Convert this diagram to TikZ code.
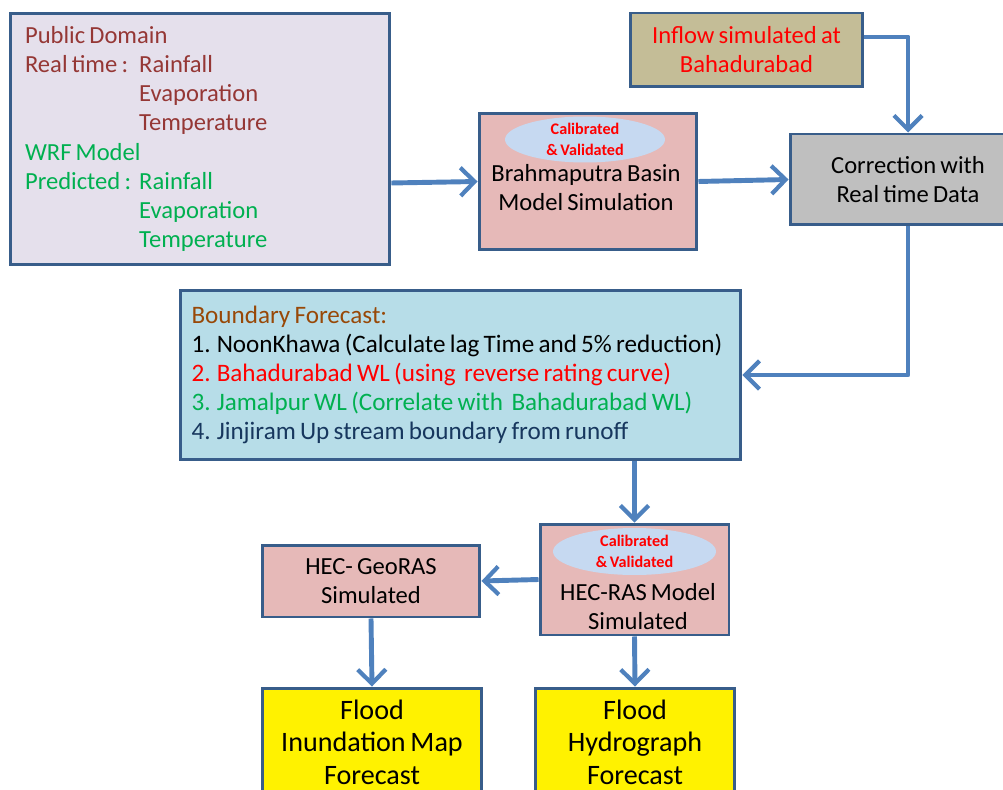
\documentclass[tikz,border=0pt]{standalone}
\usepackage{fontspec}
\setmainfont{Carlito}[WordSpace=0.75]
\usetikzlibrary{arrows.meta, positioning, shapes.geometric}
\definecolor{boxline}{HTML}{385D8A}
\definecolor{flowblue}{HTML}{4F81BD}
\definecolor{pubfill}{HTML}{E5E0EC}
\definecolor{inflowfill}{HTML}{C4BD97}
\definecolor{modelfill}{HTML}{E6B9B8}
\definecolor{calfill}{HTML}{C6D9F1}
\definecolor{corrfill}{HTML}{BFBFBF}
\definecolor{boundfill}{HTML}{B7DDE8}
\definecolor{darkred}{HTML}{953735}
\definecolor{wrfgreen}{HTML}{00B050}
\definecolor{titlebrown}{HTML}{984807}
\definecolor{navy}{HTML}{17375E}

\begin{document}
\begin{tikzpicture}[x=0.02cm, y=-0.02cm,
    box/.style={draw=boxline, line width=1.7pt, rectangle, align=center, inner sep=0pt,
        font=\fontsize{14}{16.5}\selectfont},
    calib/.style={ellipse, fill=calfill, text=red, inner sep=0pt, align=center,
        minimum width=3.2cm, minimum height=0.92cm, font=\bfseries\fontsize{9.2}{11.8}\selectfont},
    flow/.style={draw=flowblue, line width=2.8pt, line join=round,
        -{Straight Barb[length=8pt, width=16pt, line width=2.4pt]}}]
    \useasboundingbox (0,0) rectangle (1003,790);
    \node[box, fill=pubfill, minimum width=7.6cm, minimum height=5.04cm, text width=7.0cm,
        inner xsep=0.3cm, align=flush left, font=\fontsize{14}{16.6}\selectfont] (pub) at (200,139) {%
        \color{darkred}Public Domain\\
        \makebox[65pt][l]{Real time :}Rainfall\\
        \hspace*{65pt}Evaporation\\
        \hspace*{65pt}Temperature\\
        \color{wrfgreen}WRF Model\\
        \makebox[65pt][l]{Predicted :}Rainfall\\
        \hspace*{65pt}Evaporation\\
        \hspace*{65pt}Temperature};
    \node[box, fill=inflowfill, text=red, minimum width=4.66cm, minimum height=1.48cm] (inflow) at (746.5,50)
        {Inflow simulated at\\Bahadurabad};
    \node[box, fill=modelfill, minimum width=4.36cm, minimum height=2.74cm] (brahma) at (588,181.5) {};
    \node[calib] (brahmacal) at (585,139.5) {Calibrated\\\& Validated};
    \node[font=\fontsize{14}{16.5}\selectfont, align=center] (brahmatxt) at (586,188)
        {Brahmaputra Basin\\Model Simulation};
    \node[box, fill=corrfill, minimum width=4.72cm, minimum height=1.82cm] (corr) at (908,179.5)
        {Correction with\\Real time Data};
    \node[box, fill=boundfill, minimum width=11.22cm, minimum height=3.4cm, text width=10.76cm,
        inner xsep=0.23cm, align=flush left, font=\fontsize{14.3}{16.6}\selectfont] (bound) at (460.5,375) {%
        \color{titlebrown}Boundary Forecast:\\
        \color{black}1. NoonKhawa (Calculate lag Time and 5\% reduction)\\
        \color{red}2. Bahadurabad WL (using \ reverse rating curve)\\
        \color{wrfgreen}3. Jamalpur WL (Correlate with \ Bahadurabad WL)\\
        \color{navy}4. Jinjiram Up stream boundary from runoff\\[3pt]};
    \node[box, fill=modelfill, minimum width=3.78cm, minimum height=2.22cm] (hecras) at (634.5,579.5) {};
    \node[calib, minimum width=3.26cm, minimum height=0.94cm] (hecrascal) at (634.5,551.5) {Calibrated\\\& Validated};
    \node[font=\fontsize{14}{16.5}\selectfont, align=center] (hecrastxt) at (638,607)
        {HEC-RAS Model\\Simulated};
    \node[box, fill=modelfill, minimum width=4.36cm, minimum height=1.44cm] (georas) at (371,581)
        {HEC- GeoRAS\\Simulated};
    \node[box, fill=yellow, minimum width=4.4cm, minimum height=2.16cm,
        font=\fontsize{16}{18.5}\selectfont] (inund) at (372,742) {Flood\\Inundation Map\\Forecast};
    \node[box, fill=yellow, minimum width=4.0cm, minimum height=2.16cm,
        font=\fontsize{16}{18.5}\selectfont] (hydro) at (635,742) {Flood\\Hydrograph\\Forecast};
    \draw[flow] ([yshift=-0.88cm]pub.east) -- (brahma.west);
    \draw[flow] (brahma.east) -- (corr.west);
    \draw[flow] ([yshift=0.26cm]inflow.east) -| (corr.north);
    \draw[flow] (corr.south) |- (bound.east);
    \draw[flow] (hecras.north |- bound.south) -- (hecras.north);
    \draw[flow] (hecras.west) -- (georas.east);
    \draw[flow] (georas.south) -- (inund.north);
    \draw[flow] (hecras.south) -- (hydro.north);
\end{tikzpicture}
\end{document}
